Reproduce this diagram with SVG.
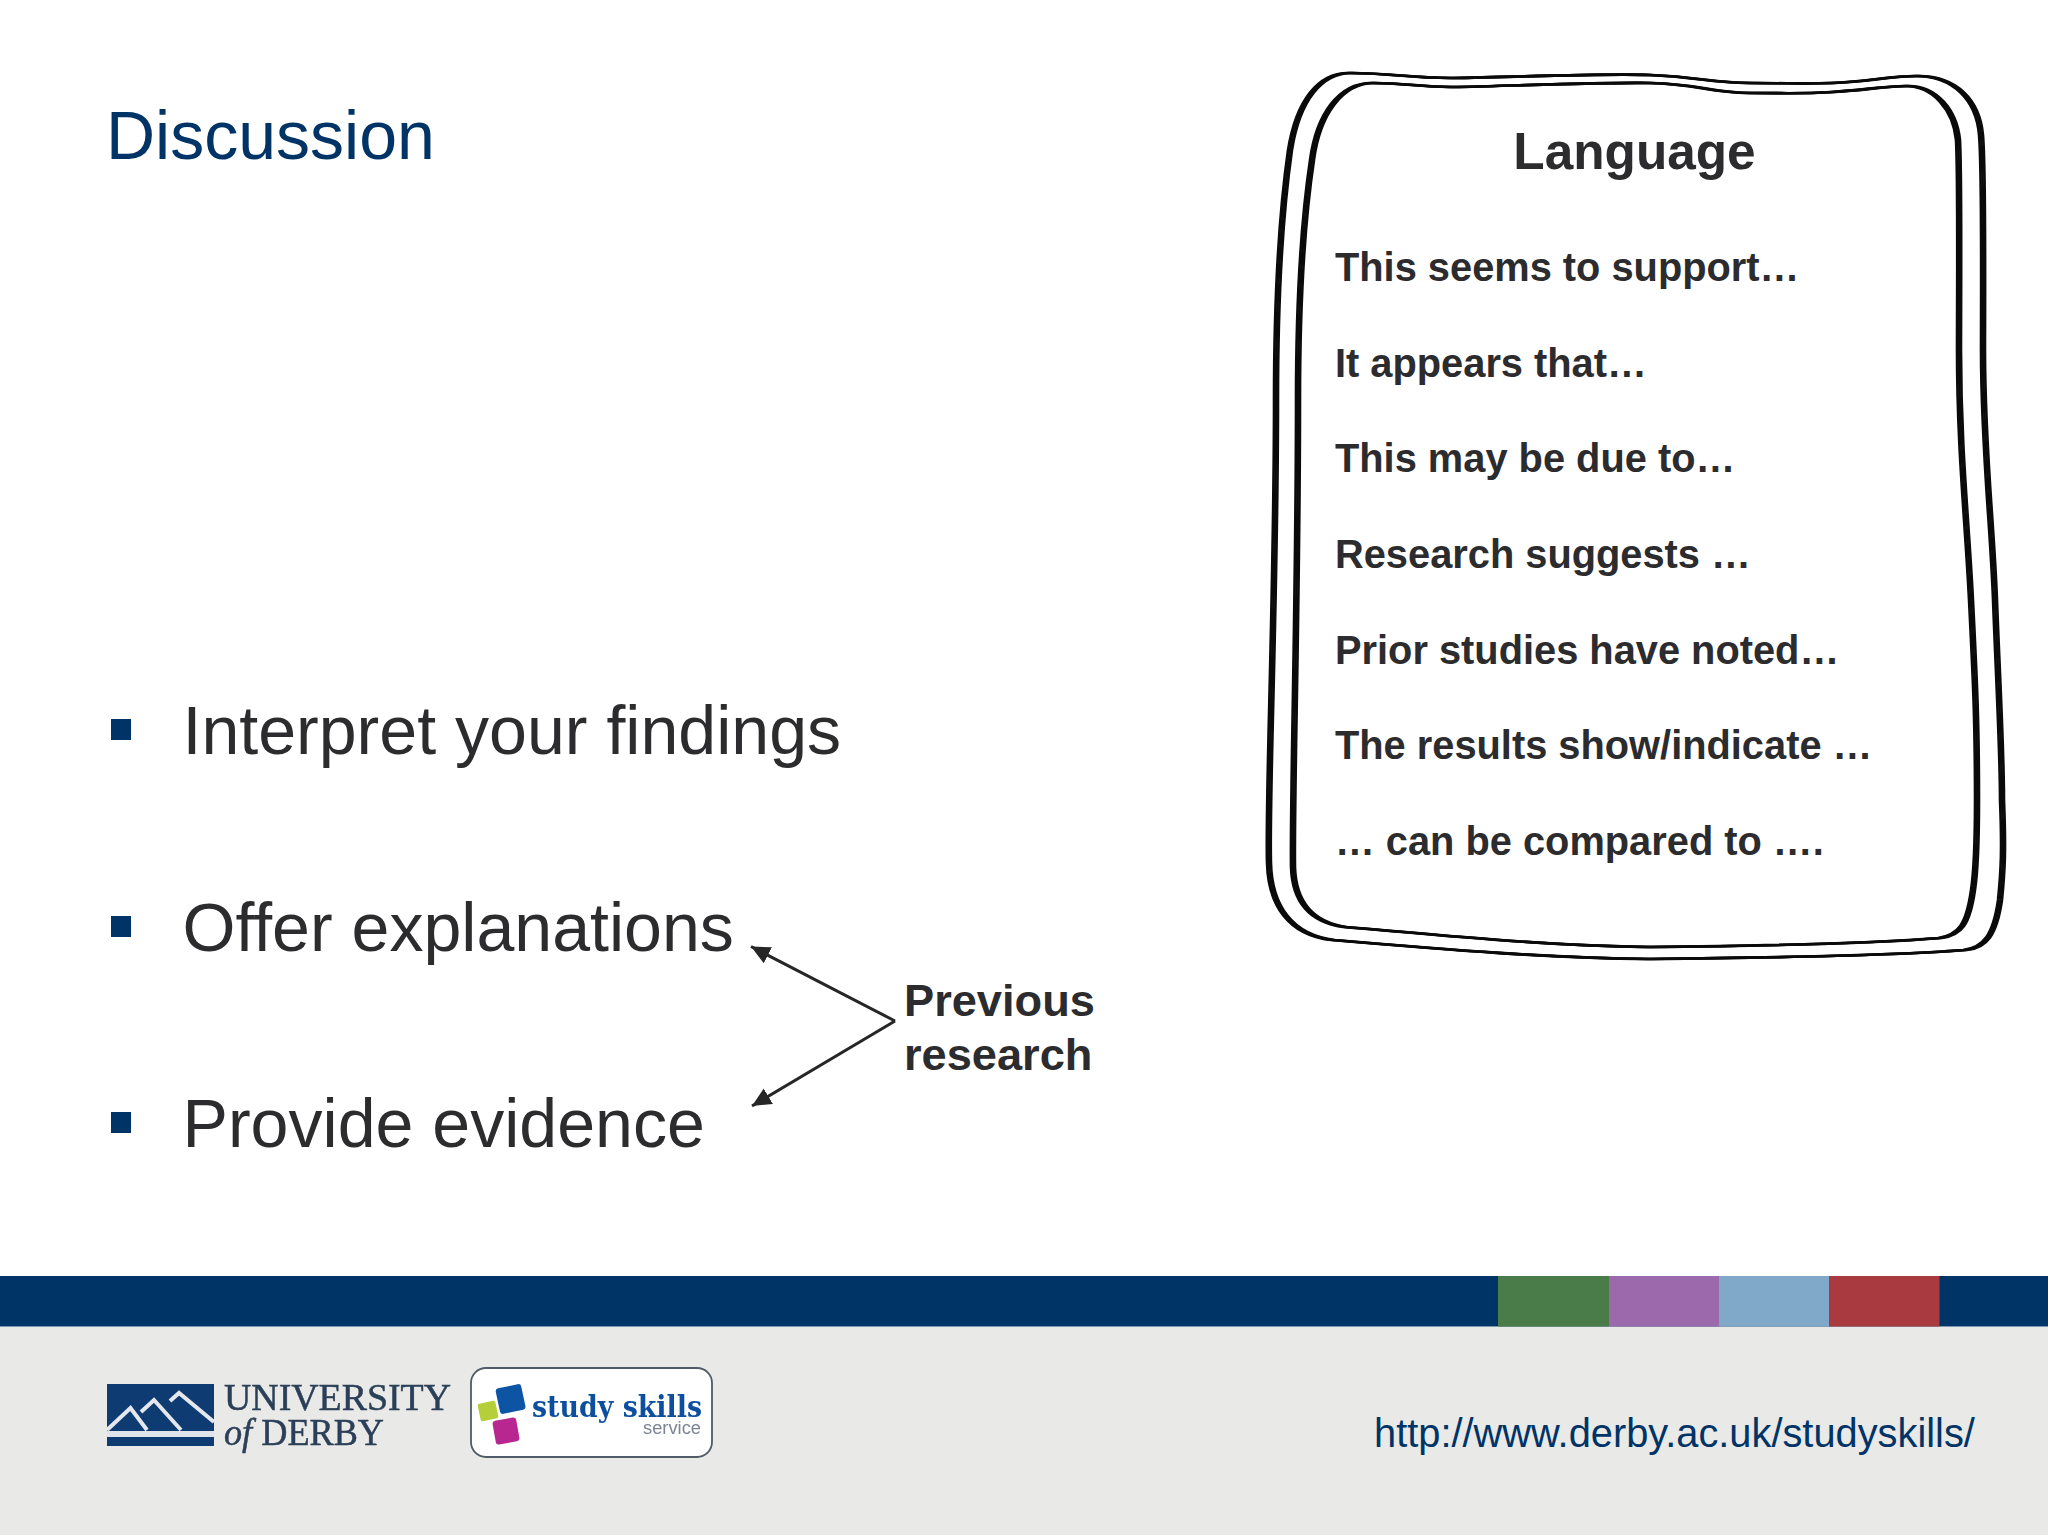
<svg xmlns="http://www.w3.org/2000/svg" width="2048" height="1536" viewBox="0 0 2048 1536">
<style>
text{font-family:"Liberation Sans",Arial,sans-serif;fill:#2c2c2e}
.title{font-size:68px;fill:#003366}
.bullet{font-size:68.1px}
.sq{fill:#003366}
.head{font-size:51.3px;font-weight:700}
.item{font-size:39.8px;font-weight:700}
.note{font-size:45.2px;font-weight:700}
.frame{fill:none;stroke:#0a0a0a;stroke-width:2.6}
.arrow{fill:none;stroke:#262626;stroke-width:3;marker-end:url(#ah)}
.serif{font-family:"Liberation Serif",serif;fill:#2b3f58;stroke:#2b3f58;stroke-width:.5}
</style>
<defs>
<marker id="ah" markerUnits="userSpaceOnUse" markerWidth="22" markerHeight="22" refX="19" refY="10" orient="auto"><path d="M0,1 L19,10 L0,19 Z" fill="#262626"/></marker>
<filter id="soft" x="-5%" y="-5%" width="110%" height="110%"><feGaussianBlur stdDeviation="0.6"/></filter>
<path id="outerP" d="M1350,73 C1390,73 1410,78 1450,78 S1600,73 1650,75 S1710,83 1750,83 S1800,84 1833,83 S1890,76 1917,76 C1955,76 1978,100 1981,135 C1984,170 1983,300 1983,350 C1983,450 1992,520 1995,600 C1998,680 2002,750 2002,800 C2004,850 2003,870 2000,900 C1995,935 1985,948 1965,950 C1900,955 1750,958 1650,959 C1550,958 1450,950 1333,940 C1290,935 1270,905 1269,863 C1267,800 1276,600 1276,400 C1276,300 1280,220 1290,150 C1298,100 1320,73 1350,73 Z"/>
<path id="innerP" d="M1373,83 C1405,83 1420,87 1450,87 S1600,82 1650,83 S1710,93 1750,93 S1800,94 1833,92 S1885,86 1907,86 C1935,86 1955,110 1958,140 C1960,180 1959,300 1959,350 C1959,450 1967,520 1971,600 C1975,680 1977,720 1977,800 C1977,840 1976,870 1973,890 C1968,925 1960,935 1940,938 C1880,943 1750,946 1650,947 C1550,946 1450,936 1345,927 C1310,922 1294,900 1293,867 C1292,800 1298,600 1298,400 C1298,300 1303,220 1312,160 C1318,115 1340,83 1373,83 Z"/>
</defs>
<rect width="2048" height="1536" fill="#fff"/>
<g id="title"><text class="title" x="106" y="159">Discussion</text></g>
<g id="bullet-1"><rect class="sq" x="111" y="719" width="20" height="21"/><text class="bullet" x="182.5" y="754">Interpret your findings</text></g>
<g id="bullet-2"><rect class="sq" x="111" y="916" width="20" height="21"/><text class="bullet" x="182.5" y="951">Offer explanations</text></g>
<g id="bullet-3"><rect class="sq" x="111" y="1112" width="20" height="21"/><text class="bullet" x="182.5" y="1147">Provide evidence</text></g>
<g id="language-box">
<g class="frame"><use href="#outerP" x="-2"/><use href="#outerP"/><use href="#outerP" x="2"/><use href="#innerP" x="-2"/><use href="#innerP"/><use href="#innerP" x="2"/></g>
<text class="head" x="1634.5" y="169" text-anchor="middle">Language</text>
<text class="item" x="1335" y="281">This seems to support…</text>
<text class="item" x="1335" y="376.5">It appears that…</text>
<text class="item" x="1335" y="472">This may be due to…</text>
<text class="item" x="1335" y="568">Research suggests …</text>
<text class="item" x="1335" y="663.5">Prior studies have noted…</text>
<text class="item" x="1335" y="759">The results show/indicate …</text>
<text class="item" x="1335" y="855">… can be compared to ….</text>
</g>
<g id="previous-research"><text class="note" x="904" y="1016">Previous</text><text class="note" x="904" y="1070">research</text></g>
<g id="connectors">
<path class="arrow" d="M895,1021 L751,946.5"/>
<path class="arrow" d="M895,1021 L752,1106"/>
</g>
<g id="footer">
<rect x="0" y="1327" width="2048" height="208" fill="#e9e9e7"/>
<rect x="0" y="1276" width="2048" height="50.5" fill="#003366"/>
<rect x="1498" y="1276" width="111" height="50.5" fill="#4a7c4a"/>
<rect x="1609" y="1276" width="110" height="50.5" fill="#9c6aac"/>
<rect x="1719" y="1276" width="110" height="50.5" fill="#7fa8c9"/>
<rect x="1829" y="1276" width="110.5" height="50.5" fill="#a83a40"/>
<text x="1374" y="1447" font-size="39.8" style="fill:#003366">http://www.derby.ac.uk/studyskills/</text>
</g>
<g id="derby-logo" filter="url(#soft)">
<rect x="107" y="1384" width="107" height="62" fill="#0f3a72"/>
<rect x="107" y="1431" width="107" height="6" fill="#dfe4ea"/>
<path d="M107,1430 L130.5,1408 L147,1430 M141,1412 L154,1400 L181,1430 M170,1401 L179,1393 L214,1422" fill="none" stroke="#e4e8ee" stroke-width="4"/>
<text class="serif" x="224" y="1410" font-size="37.5" textLength="227" lengthAdjust="spacingAndGlyphs">UNIVERSITY</text>
<text class="serif" x="224" y="1445" font-size="37.5" textLength="160" lengthAdjust="spacingAndGlyphs"><tspan font-style="italic">of</tspan> DERBY</text>
</g>
<g id="study-skills-logo">
<rect x="471" y="1368" width="241" height="89" rx="15" fill="#fff" stroke="#4f5b66" stroke-width="1.8"/>
<g filter="url(#soft)">
<rect x="497.6" y="1386" width="26" height="26" rx="3" fill="#0a55a4" transform="rotate(-12 510.6 1399)"/>
<rect x="479" y="1402" width="18" height="18" rx="2" fill="#b5cf3b" transform="rotate(-12 488 1411)"/>
<rect x="494" y="1419" width="24" height="24" rx="3" fill="#b8278f" transform="rotate(-10 506 1431)"/>
<text x="532" y="1417" font-size="30" font-weight="700" textLength="170" lengthAdjust="spacingAndGlyphs" style="font-family:'DejaVu Serif',serif;fill:#0b4f9e">study skills</text>
<text x="643" y="1434" font-size="18" textLength="58" lengthAdjust="spacingAndGlyphs" style="fill:#7d8494">service</text>
</g>
</g>
</svg>
